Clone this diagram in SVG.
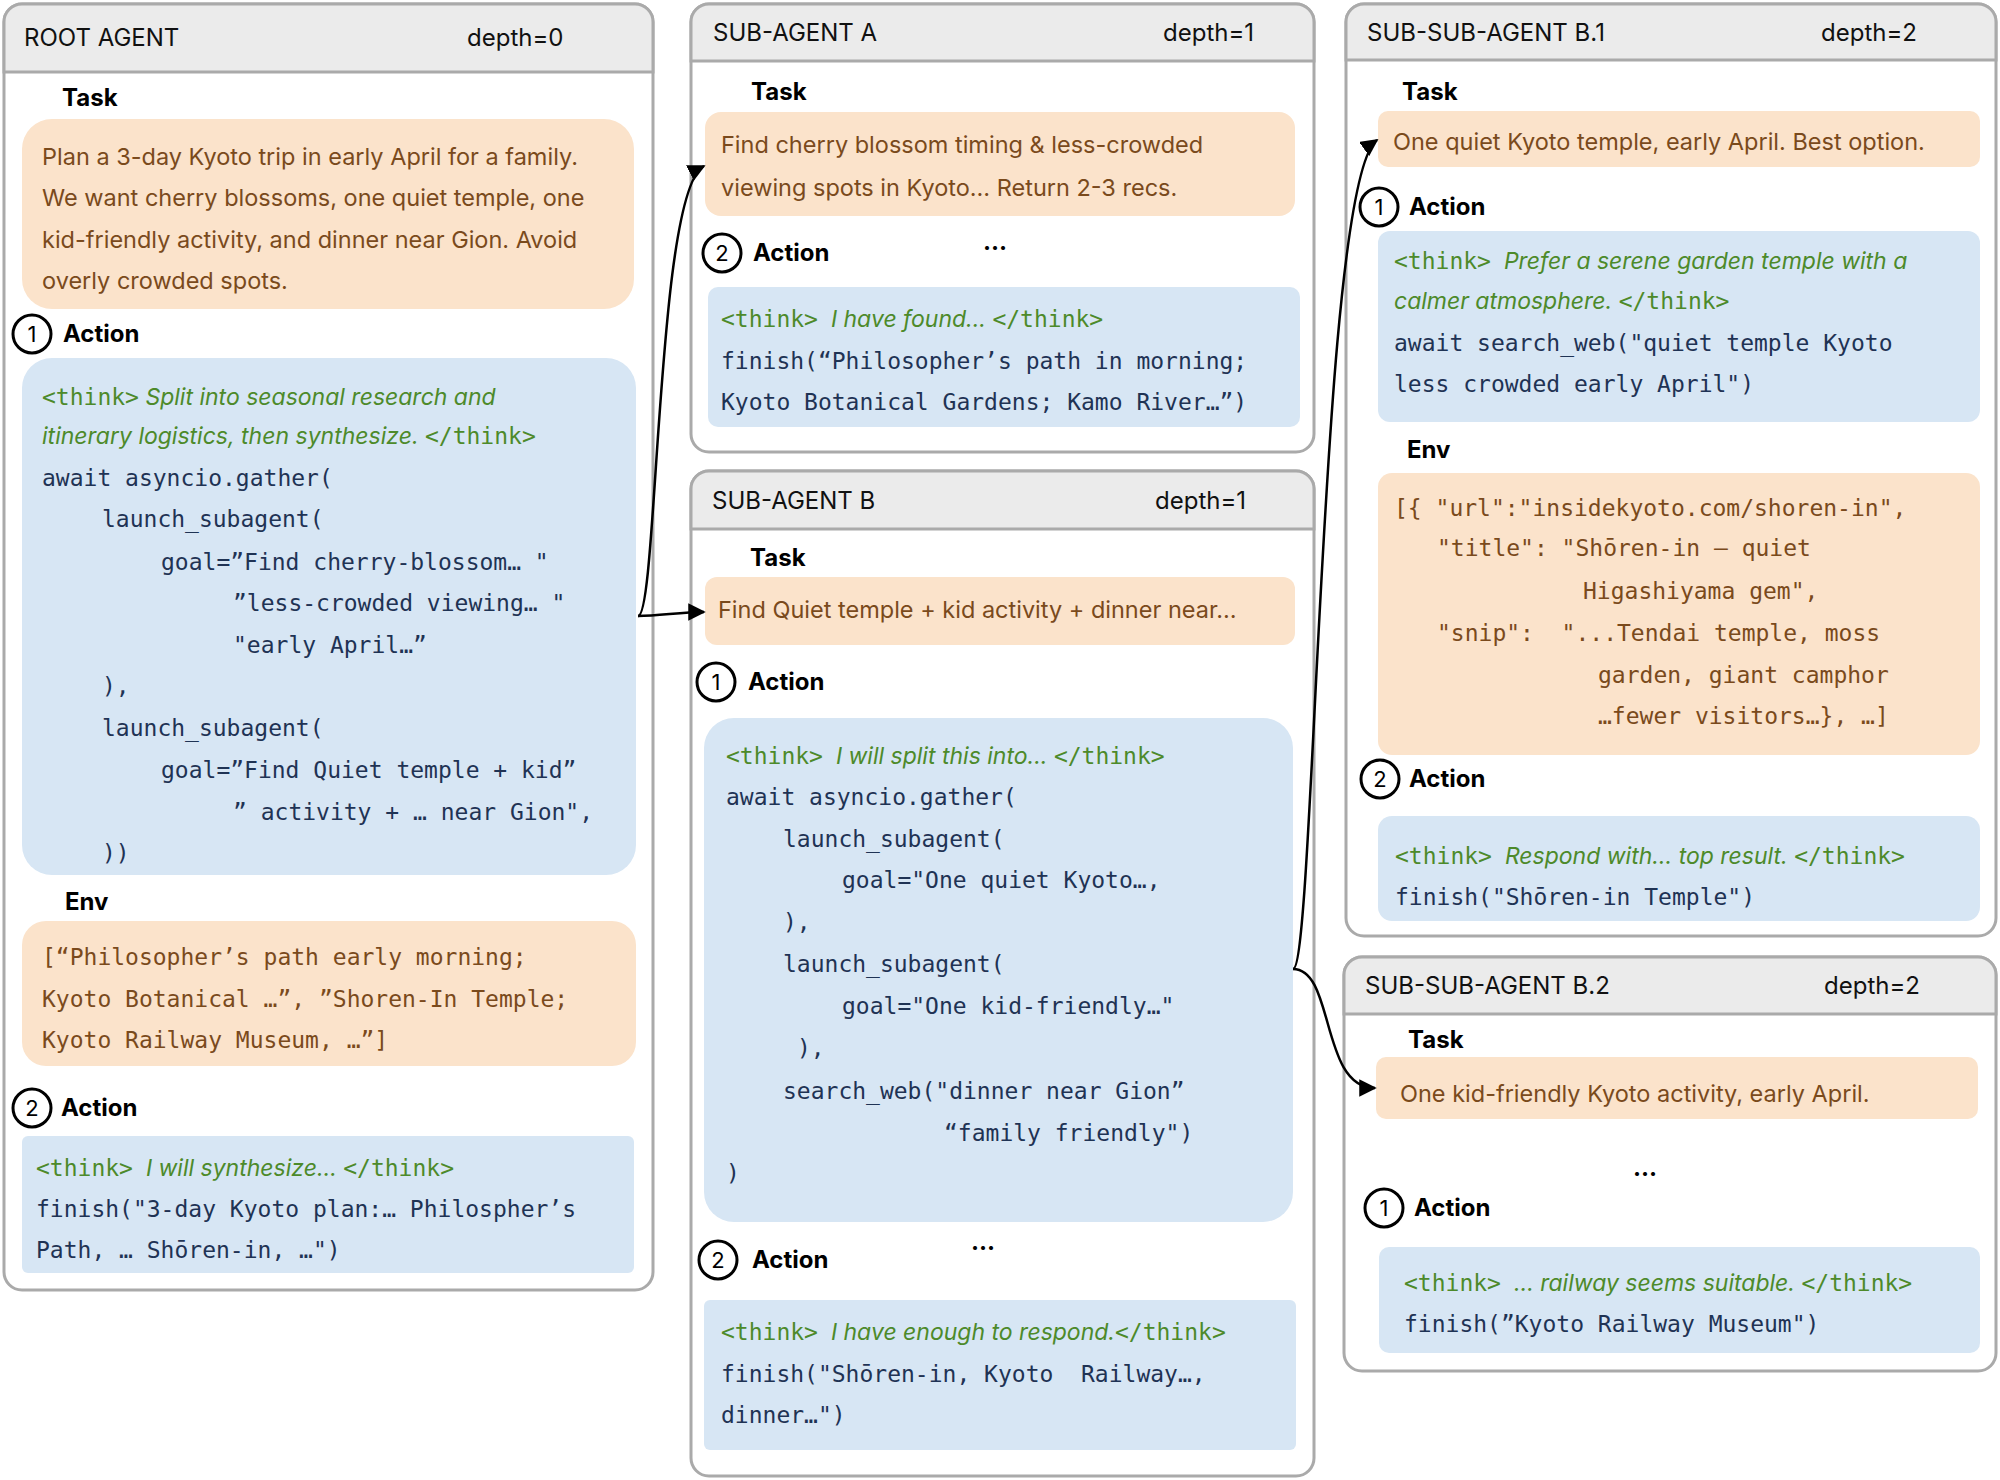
<svg xmlns="http://www.w3.org/2000/svg" width="2000" height="1480" viewBox="0 0 2000 1480">
<style>
.panel{fill:#fff;stroke:#aaa;stroke-width:3}
.hdr{fill:#ebebeb;stroke:#aaa;stroke-width:3}
.ht{font-family:Inter,"Liberation Sans",sans-serif;font-size:24px;fill:#111}
.lb{font-family:Inter,"Liberation Sans",sans-serif;font-size:24px;font-weight:bold;fill:#000}
.task{fill:#fbe3cb}
.tt{font-family:Inter,"Liberation Sans",sans-serif;font-size:23.5px;fill:#7a4a1c}
.code{fill:#d7e6f4}
.m{font-family:"DejaVu Sans Mono","Liberation Mono",monospace;font-size:23px;fill:#1f3354;white-space:pre}
.env{font-family:"DejaVu Sans Mono","Liberation Mono",monospace;font-size:23px;fill:#7a4a1c;white-space:pre}
.th{fill:#4d8a2a}
.it{font-family:Inter,"Liberation Sans",sans-serif;font-style:italic}
.c{fill:#fff;stroke:#000;stroke-width:3}
.cn{font-family:Inter,"Liberation Sans",sans-serif;font-size:22px;text-anchor:middle;fill:#000}
.dots{font-family:Inter,"Liberation Sans",sans-serif;font-size:24px;font-weight:bold;fill:#000}
.con{fill:none;stroke:#000;stroke-width:2.5;marker-end:url(#ah)}
</style>
<defs>
<marker id="ah" viewBox="0 0 10 10" refX="9" refY="5" markerWidth="7" markerHeight="7" orient="auto"><path d="M0,0L10,5L0,10z" fill="#000"/></marker>
</defs>

<g id="root">
<rect class="panel" x="4" y="4" width="649" height="1286" rx="18"/>
<path class="hdr" d="M4,72V22A18,18 0 0 1 22,4H635A18,18 0 0 1 653,22V72Z"/>
<text class="ht" x="24" y="46">ROOT AGENT</text><text class="ht" x="467" y="46">depth=0</text>
<text class="lb" x="62" y="106">Task</text>
<rect class="task" x="22" y="119" width="612" height="190" rx="30"/>
<text class="tt" x="42" y="165">Plan a 3-day Kyoto trip in early April for a family.</text>
<text class="tt" x="42" y="206">We want cherry blossoms, one quiet temple, one</text>
<text class="tt" x="42" y="248">kid-friendly activity, and dinner near Gion. Avoid</text>
<text class="tt" x="42" y="289">overly crowded spots.</text>
<circle class="c" cx="32" cy="334" r="19"/><text class="cn" x="32" y="342">1</text>
<text class="lb" x="63" y="342">Action</text>
<rect class="code" x="22" y="358" width="614" height="517" rx="30"/>
<text class="m" x="42" y="405"><tspan class="th">&lt;think&gt;</tspan><tspan class="th it"> Split into seasonal research and</tspan></text>
<text class="m" x="42" y="444"><tspan class="th it">itinerary logistics, then synthesize. </tspan><tspan class="th">&lt;/think&gt;</tspan></text>
<text class="m" x="42" y="486">await asyncio.gather(</text>
<text class="m" x="102" y="527">launch_subagent(</text>
<text class="m" x="161" y="570">goal=”Find cherry-blossom… "</text>
<text class="m" x="233" y="611">”less-crowded viewing… "</text>
<text class="m" x="233" y="653">"early April…”</text>
<text class="m" x="102" y="694">),</text>
<text class="m" x="102" y="736">launch_subagent(</text>
<text class="m" x="161" y="778">goal=”Find Quiet temple + kid”</text>
<text class="m" x="233" y="820">” activity + … near Gion",</text>
<text class="m" x="102" y="861">))</text>
<text class="lb" x="65" y="910">Env</text>
<rect class="task" x="22" y="921" width="614" height="145" rx="24"/>
<text class="env" x="42" y="965">[“Philosopher’s path early morning;</text>
<text class="env" x="42" y="1007">Kyoto Botanical …”, ”Shoren-In Temple;</text>
<text class="env" x="42" y="1048">Kyoto Railway Museum, …”]</text>
<circle class="c" cx="32" cy="1108" r="19"/><text class="cn" x="32" y="1116">2</text>
<text class="lb" x="61" y="1116">Action</text>
<rect class="code" x="22" y="1136" width="612" height="137" rx="6"/>
<text class="m" x="36" y="1176"><tspan class="th">&lt;think&gt;</tspan><tspan class="th it">  I will synthesize… </tspan><tspan class="th">&lt;/think&gt;</tspan></text>
<text class="m" x="36" y="1217">finish("3-day Kyoto plan:… Philospher’s</text>
<text class="m" x="36" y="1258">Path, … Shōren-in, …")</text>
</g>

<g id="subA">
<rect class="panel" x="691" y="4" width="623" height="448" rx="18"/>
<path class="hdr" d="M691,61V22A18,18 0 0 1 709,4H1296A18,18 0 0 1 1314,22V61Z"/>
<text class="ht" x="713" y="41">SUB-AGENT A</text><text class="ht" x="1163" y="41">depth=1</text>
<text class="lb" x="751" y="100">Task</text>
<rect class="task" x="705" y="112" width="590" height="104" rx="16"/>
<text class="tt" x="721" y="153">Find cherry blossom timing &amp; less-crowded</text>
<text class="tt" x="721" y="196">viewing spots in Kyoto… Return 2-3 recs.</text>
<circle class="c" cx="722" cy="253" r="19"/><text class="cn" x="722" y="261">2</text>
<text class="lb" x="753" y="261">Action</text>
<text class="dots" x="983" y="250">…</text>
<rect class="code" x="708" y="287" width="592" height="140" rx="10"/>
<text class="m" x="721" y="327"><tspan class="th">&lt;think&gt;</tspan><tspan class="th it">  I have found... </tspan><tspan class="th">&lt;/think&gt;</tspan></text>
<text class="m" x="721" y="369">finish(“Philosopher’s path in morning;</text>
<text class="m" x="721" y="410">Kyoto Botanical Gardens; Kamo River…”)</text>
</g>

<g id="subB">
<rect class="panel" x="691" y="471" width="623" height="1005" rx="18"/>
<path class="hdr" d="M691,529V489A18,18 0 0 1 709,471H1296A18,18 0 0 1 1314,489V529Z"/>
<text class="ht" x="712" y="509">SUB-AGENT B</text><text class="ht" x="1155" y="509">depth=1</text>
<text class="lb" x="750" y="566">Task</text>
<rect class="task" x="705" y="577" width="590" height="68" rx="12"/>
<text class="tt" x="718" y="618">Find Quiet temple + kid activity + dinner near…</text>
<circle class="c" cx="716" cy="682" r="19"/><text class="cn" x="716" y="690">1</text>
<text class="lb" x="748" y="690">Action</text>
<rect class="code" x="704" y="718" width="589" height="504" rx="30"/>
<text class="m" x="726" y="764"><tspan class="th">&lt;think&gt;</tspan><tspan class="th it">  I will split this into... </tspan><tspan class="th">&lt;/think&gt;</tspan></text>
<text class="m" x="726" y="805">await asyncio.gather(</text>
<text class="m" x="783" y="847">launch_subagent(</text>
<text class="m" x="842" y="888">goal="One quiet Kyoto…,</text>
<text class="m" x="783" y="930">),</text>
<text class="m" x="783" y="972">launch_subagent(</text>
<text class="m" x="842" y="1014">goal="One kid-friendly…"</text>
<text class="m" x="797" y="1056">),</text>
<text class="m" x="783" y="1099">search_web("dinner near Gion”</text>
<text class="m" x="944" y="1141">“family friendly")</text>
<text class="m" x="726" y="1181">)</text>
<circle class="c" cx="718" cy="1260" r="19"/><text class="cn" x="718" y="1268">2</text>
<text class="lb" x="752" y="1268">Action</text>
<text class="dots" x="971" y="1250">…</text>
<rect class="code" x="704" y="1300" width="592" height="150" rx="6"/>
<text class="m" x="721" y="1340"><tspan class="th">&lt;think&gt;</tspan><tspan class="th it">  I have enough to respond.</tspan><tspan class="th">&lt;/think&gt;</tspan></text>
<text class="m" x="721" y="1382">finish("Shōren-in, Kyoto  Railway…,</text>
<text class="m" x="721" y="1423">dinner…")</text>
</g>

<g id="subB1">
<rect class="panel" x="1346" y="4" width="650" height="932" rx="18"/>
<path class="hdr" d="M1346,60V22A18,18 0 0 1 1364,4H1978A18,18 0 0 1 1996,22V60Z"/>
<text class="ht" x="1367" y="41">SUB-SUB-AGENT B.1</text><text class="ht" x="1821" y="41">depth=2</text>
<text class="lb" x="1402" y="100">Task</text>
<rect class="task" x="1378" y="111" width="602" height="56" rx="10"/>
<text class="tt" x="1393" y="150">One quiet Kyoto temple, early April. Best option.</text>
<circle class="c" cx="1379" cy="207" r="19"/><text class="cn" x="1379" y="215">1</text>
<text class="lb" x="1409" y="215">Action</text>
<rect class="code" x="1378" y="231" width="602" height="191" rx="12"/>
<text class="m" x="1394" y="269"><tspan class="th">&lt;think&gt;</tspan><tspan class="th it">  Prefer a serene garden temple with a</tspan></text>
<text class="m" x="1394" y="309"><tspan class="th it">calmer atmosphere. </tspan><tspan class="th">&lt;/think&gt;</tspan></text>
<text class="m" x="1394" y="351">await search_web("quiet temple Kyoto</text>
<text class="m" x="1394" y="392">less crowded early April")</text>
<text class="lb" x="1407" y="458">Env</text>
<rect class="task" x="1378" y="473" width="602" height="282" rx="14"/>
<text class="env" x="1394" y="516">[{ "url":"insidekyoto.com/shoren-in",</text>
<text class="env" x="1437" y="556">"title": "Shōren-in — quiet</text>
<text class="env" x="1583" y="599">Higashiyama gem",</text>
<text class="env" x="1437" y="641">"snip":  "...Tendai temple, moss</text>
<text class="env" x="1598" y="683">garden, giant camphor</text>
<text class="env" x="1598" y="724">…fewer visitors…}, …]</text>
<circle class="c" cx="1380" cy="779" r="19"/><text class="cn" x="1380" y="787">2</text>
<text class="lb" x="1409" y="787">Action</text>
<rect class="code" x="1378" y="816" width="602" height="105" rx="14"/>
<text class="m" x="1395" y="864"><tspan class="th">&lt;think&gt;</tspan><tspan class="th it">  Respond with… top result. </tspan><tspan class="th">&lt;/think&gt;</tspan></text>
<text class="m" x="1395" y="905">finish("Shōren-in Temple")</text>
</g>

<g id="subB2">
<rect class="panel" x="1344" y="957" width="652" height="414" rx="18"/>
<path class="hdr" d="M1344,1014V975A18,18 0 0 1 1362,957H1978A18,18 0 0 1 1996,975V1014Z"/>
<text class="ht" x="1365" y="994">SUB-SUB-AGENT B.2</text><text class="ht" x="1824" y="994">depth=2</text>
<text class="lb" x="1408" y="1048">Task</text>
<rect class="task" x="1376" y="1057" width="602" height="62" rx="10"/>
<text class="tt" x="1400" y="1102">One kid-friendly Kyoto activity, early April.</text>
<text class="dots" x="1633" y="1176">…</text>
<circle class="c" cx="1384" cy="1208" r="19"/><text class="cn" x="1384" y="1216">1</text>
<text class="lb" x="1414" y="1216">Action</text>
<rect class="code" x="1379" y="1247" width="601" height="106" rx="10"/>
<text class="m" x="1404" y="1291"><tspan class="th">&lt;think&gt;</tspan><tspan class="th it">  … railway seems suitable. </tspan><tspan class="th">&lt;/think&gt;</tspan></text>
<text class="m" x="1404" y="1332">finish(”Kyoto Railway Museum")</text>
</g>

<g id="connectors">
<path class="con" d="M638,616 C658,616 656,190 704,166"/>
<path class="con" d="M638,616 C660,616 680,612 704,612"/>
<path class="con" d="M1293,969 C1315,969 1320,180 1377,140"/>
<path class="con" d="M1293,969 C1335,969 1320,1088 1375,1088"/>
</g>
</svg>
